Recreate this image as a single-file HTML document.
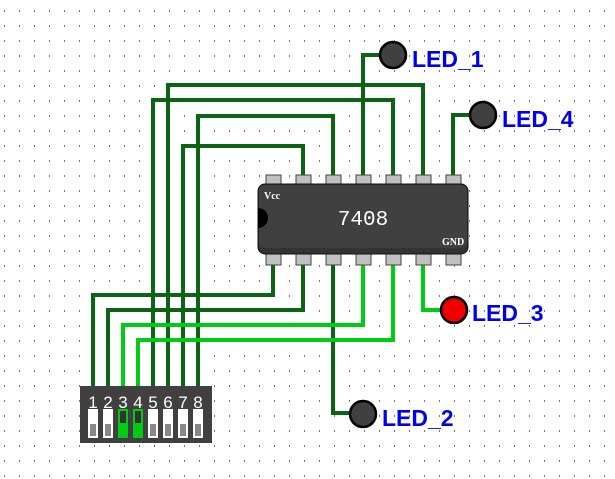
<!DOCTYPE html>
<html><head><style>body{margin:0;background:#fff}svg{display:block}</style></head><body>
<svg width="615" height="479" viewBox="0 0 615 479" xmlns="http://www.w3.org/2000/svg">
<defs><pattern id="g" x="4" y="10" width="15" height="15" patternUnits="userSpaceOnUse"><rect x="0" y="0" width="1" height="2" fill="#777"/></pattern></defs>
<rect width="615" height="479" fill="url(#g)"/>
<g fill="none" stroke-width="4" stroke-linejoin="miter">
<g stroke="#0a6414">
<polyline points="303,178 303,146 183,146 183,390"/>
<polyline points="333,178 333,116 198,116 198,390"/>
<polyline points="363,178 363,55 393,55"/>
<polyline points="393,178 393,100 153,100 153,390"/>
<polyline points="423,178 423,85 168,85 168,390"/>
<polyline points="453,178 453,115 483,115"/>
<polyline points="273,262 273,295 93,295 93,390"/>
<polyline points="303,262 303,310 108,310 108,390"/>
<polyline points="333,262 333,413 363,413"/>
</g>
<g stroke="#00cc14">
<polyline points="363,262 363,325 123,325 123,390"/>
<polyline points="393,262 393,340 138,340 138,390"/>
<polyline points="423,262 423,310 454,310"/>
</g>
</g>
<g fill="#c0c0c0" stroke="#444" stroke-width="1">
<rect x="266" y="175" width="15" height="10"/><rect x="296" y="175" width="15" height="10"/><rect x="326" y="175" width="15" height="10"/><rect x="356" y="175" width="15" height="10"/><rect x="386" y="175" width="15" height="10"/><rect x="416" y="175" width="15" height="10"/><rect x="446" y="175" width="15" height="10"/>
<rect x="266" y="254" width="15" height="11"/><rect x="296" y="254" width="15" height="11"/><rect x="326" y="254" width="15" height="11"/><rect x="356" y="254" width="15" height="11"/><rect x="386" y="254" width="15" height="11"/><rect x="416" y="254" width="15" height="11"/><rect x="446" y="254" width="15" height="11"/>
</g>
<rect x="258" y="184" width="210" height="70" rx="7" fill="#333" stroke="#111" stroke-width="1"/>
<rect x="259" y="185" width="208" height="63" rx="6" fill="#404040"/>
<path d="M258,208 a10,10 0 0 1 0,20 z" fill="#000"/>
<text x="363" y="225" font-family="Liberation Mono, monospace" font-size="21" fill="#fff" text-anchor="middle">7408</text>
<text x="264" y="199" font-family="Liberation Serif, serif" font-size="10" font-weight="bold" fill="#fff">Vcc</text>
<text x="442" y="245" font-family="Liberation Serif, serif" font-size="10" font-weight="bold" fill="#fff">GND</text>
<rect x="80" y="386" width="132" height="57" fill="#404040"/>
<g font-family="Liberation Sans, sans-serif" font-size="17" fill="#fff" text-anchor="middle">
<text x="93" y="408">1</text><text x="108" y="408">2</text><text x="123" y="408">3</text><text x="138" y="408">4</text><text x="153" y="408">5</text><text x="168" y="408">6</text><text x="183" y="408">7</text><text x="198" y="408">8</text>
</g>
<g>
<rect x="88" y="409" width="10" height="29" fill="#fff"/><rect x="90" y="424" width="6" height="12" fill="#888"/>
<rect x="103" y="409" width="10" height="29" fill="#fff"/><rect x="105" y="424" width="6" height="12" fill="#888"/>
<rect x="118" y="409" width="10" height="29" fill="#00cc14"/><rect x="120" y="411" width="6" height="12" fill="#333"/>
<rect x="133" y="409" width="10" height="29" fill="#00cc14"/><rect x="135" y="411" width="6" height="12" fill="#333"/>
<rect x="148" y="409" width="10" height="29" fill="#fff"/><rect x="150" y="424" width="6" height="12" fill="#888"/>
<rect x="163" y="409" width="10" height="29" fill="#fff"/><rect x="165" y="424" width="6" height="12" fill="#888"/>
<rect x="178" y="409" width="10" height="29" fill="#fff"/><rect x="180" y="424" width="6" height="12" fill="#888"/>
<rect x="193" y="409" width="10" height="29" fill="#fff"/><rect x="195" y="424" width="6" height="12" fill="#888"/>
</g>
<g stroke="#000" stroke-width="2.5">
<circle cx="393" cy="55" r="13" fill="#404040"/>
<circle cx="483" cy="115" r="13" fill="#404040"/>
<circle cx="454" cy="310" r="13" fill="#ee0000"/>
<circle cx="363" cy="414" r="13" fill="#404040"/>
</g>
<g font-family="Liberation Sans, sans-serif" font-size="23" font-weight="bold" fill="#0000ee">
<text x="412" y="67">LED_1</text>
<text x="502" y="127">LED_4</text>
<text x="472" y="321">LED_3</text>
<text x="382" y="426">LED_2</text>
</g>
</svg>
</body></html>
